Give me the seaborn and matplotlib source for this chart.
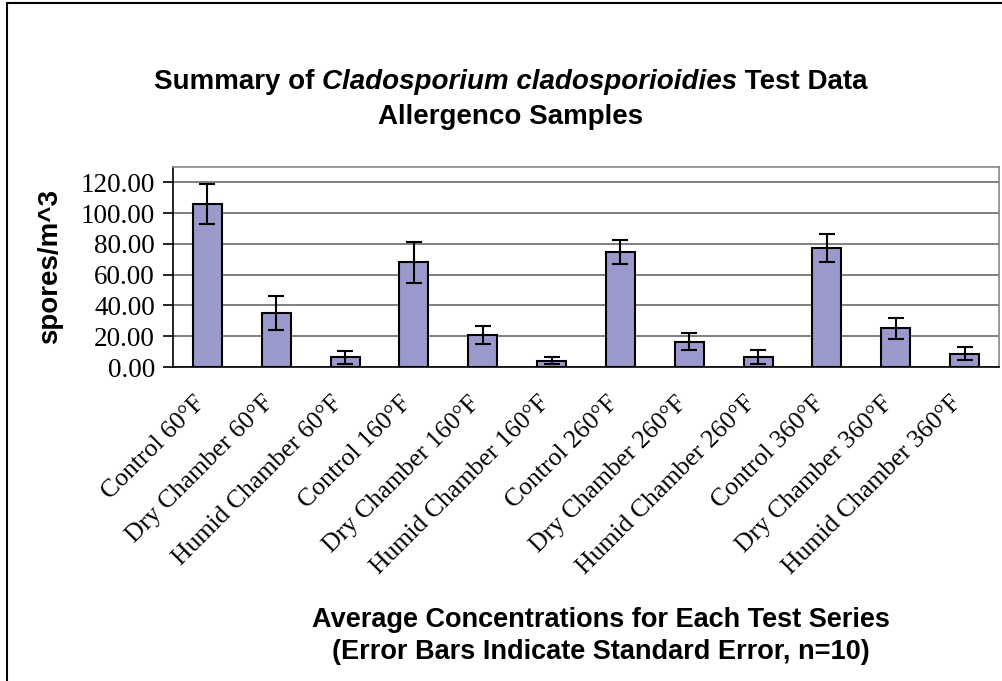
import numpy as np
import matplotlib
matplotlib.use("Agg")
import matplotlib.pyplot as plt
import matplotlib.transforms as mtransforms
import seaborn as sns
from matplotlib.patches import Rectangle

categories = ["Control 60°F", "Dry Chamber 60°F", "Humid Chamber 60°F",
              "Control 160°F", "Dry Chamber 160°F", "Humid Chamber 160°F",
              "Control 260°F", "Dry Chamber 260°F", "Humid Chamber 260°F",
              "Control 360°F", "Dry Chamber 360°F", "Humid Chamber 360°F"]
means = [105.9, 35.2, 6.5, 68.1, 20.8, 4.1, 74.9, 16.5, 6.5, 77.0, 25.2, 8.7]
std_err = [12.8, 11.0, 4.2, 13.4, 5.7, 2.4, 7.8, 5.4, 4.3, 9.1, 6.9, 4.3]
yticks = [0, 20, 40, 60, 80, 100, 120]

sns.set_style("white")
plt.rcParams["text.color"] = "black"
plt.rcParams["xtick.color"] = "black"
plt.rcParams["ytick.color"] = "black"
serif = ["Liberation Serif", "DejaVu Serif"]
sans = ["Liberation Sans", "DejaVu Sans"]

fig = plt.figure(figsize=(10.02, 6.81), dpi=100)
ax = fig.add_axes([0.1727, 0.461, 0.8243, 0.294])

sns.barplot(x=categories, y=means, color="#9999CC", saturation=1,
            edgecolor="black", linewidth=1.5, width=0.42, ax=ax, zorder=3)
ax.errorbar(np.arange(len(categories)), means, yerr=std_err, fmt="none",
            ecolor="black", elinewidth=1.5, capsize=6, capthick=1.5, zorder=4)

ax.set_ylim(0, 130)
ax.set_xlim(-0.5, len(categories) - 0.5)
ax.set_yticks(yticks)
ax.set_yticklabels([f"{v:.2f}" for v in yticks], family=serif, fontsize=19.5)
ax.yaxis.grid(True, color="#6a6a6a", linewidth=1.2, zorder=0)
ax.set_axisbelow(True)

# category labels on major ticks, tick marks on boundaries
ax.set_xticks(np.arange(len(categories)))
ax.set_xticklabels(categories, rotation=45, ha="right", va="top",
                   rotation_mode="anchor", family=serif, fontsize=18.5)
ax.set_xticks(np.arange(-0.5, len(categories), 1), minor=True)
ax.tick_params(axis="x", which="major", length=0, pad=18)
ax.tick_params(axis="x", which="minor", length=8, width=1.2, color="black", direction="out")
ax.tick_params(axis="y", length=7, width=1.2, color="black", direction="out", pad=6, left=True)

# nudge rotated labels left so their ends sit under the bars
shift = mtransforms.ScaledTranslation(-14 / 100, 0, fig.dpi_scale_trans)
for lab in ax.get_xticklabels():
    lab.set_transform(lab.get_transform() + shift)

for side in ["top", "right"]:
    ax.spines[side].set_color("#888888")
    ax.spines[side].set_linewidth(1.2)
for side in ["left", "bottom"]:
    ax.spines[side].set_color("black")
    ax.spines[side].set_linewidth(1.2)

ax.set_xlabel("")
ax.set_ylabel("")

# y axis label
fig.text(0.05, 0.608, "spores/m^3", rotation=90, ha="center", va="center",
         family=sans, fontweight="bold", fontsize=20)

# title with italic species name
renderer = fig.canvas.get_renderer()
parts = [("Summary of ", "normal"), ("Cladosporium cladosporioidies", "italic"), (" Test Data", "normal")]
texts = []
for s, style in parts:
    t = fig.text(0, 0.880, s, family=sans, fontweight="bold", fontstyle=style,
                 fontsize=20, ha="left", va="center")
    texts.append(t)
widths = [t.get_window_extent(renderer).width for t in texts]
total = sum(widths)
x0 = 0.510 * fig.bbox.width - total / 2
for t, w in zip(texts, widths):
    t.set_x(x0 / fig.bbox.width)
    x0 += w
fig.text(0.510, 0.828, "Allergenco Samples", family=sans, fontweight="bold",
         fontsize=20, ha="center", va="center")

# x axis title
fig.text(0.600, 0.066, "Average Concentrations for Each Test Series\n(Error Bars Indicate Standard Error, n=10)",
         family=sans, fontweight="bold", fontsize=19.5, ha="center", va="center",
         linespacing=1.3)

# chart border
fig.patches.append(Rectangle((7 / 1002, -0.05), 1.1, 1.05 - 3 / 681,
                             transform=fig.transFigure, fill=False,
                             edgecolor="black", linewidth=1.5))

fig.savefig("out.png", dpi=100)
